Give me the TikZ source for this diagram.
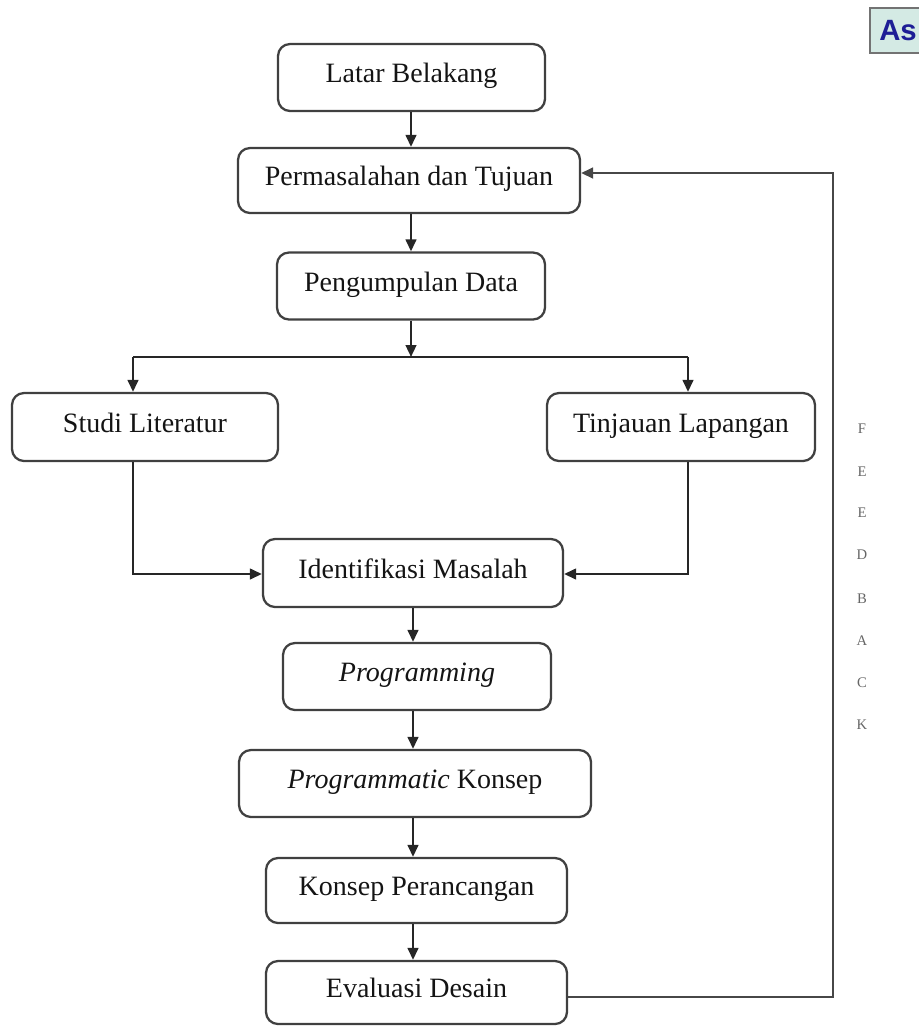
\documentclass[tikz,border=0pt]{standalone}
\usepackage{fontspec}
\setmainfont{Liberation Serif}
\newfontfamily\arialfont{Liberation Sans}
\usetikzlibrary{arrows.meta}
\begin{document}
\begin{tikzpicture}[x=0.75pt,y=-0.75pt,
  box/.style={draw=black!75, line width=1.7pt, rounded corners=9pt, inner sep=0pt,
    font=\fontsize{21}{25}\selectfont, text=black!92, text height=13pt, text depth=5.5pt, align=center},
  conn/.style={line width=1.7pt, draw=black!85},
  arr/.style={conn, -{Triangle[length=9pt,width=8pt]}},
  fbl/.style={font=\fontsize{11}{13}\selectfont, text=black!60, inner sep=0pt}]
\useasboundingbox (0,0) rectangle (919,1026);
\clip (0,0) rectangle (919,1026);

% corner label
\node[draw=black!55, line width=1.8pt, fill={rgb,255:red,212;green,234;blue,228}, minimum width=60pt, minimum height=33.75pt,
  anchor=north west, inner sep=0pt] (asbox) at (869,7) {};
\node[anchor=west, inner sep=0pt, font=\arialfont\bfseries\fontsize{22}{24}\selectfont, text={rgb,255:red,30;green,30;blue,150}] (astext) at (879,31) {As};

% boxes
\node[box, minimum width=200.25pt, minimum height=50.25pt] (lb) at (411.5,77.5) {Latar Belakang};
\node[box, minimum width=256.5pt, minimum height=48.75pt] (pt) at (409,180.5) {Permasalahan dan Tujuan};
\node[box, minimum width=201pt, minimum height=50.25pt] (pd) at (411,286) {Pengumpulan Data};
\node[box, minimum width=199.5pt, minimum height=51pt] (sl) at (145,427) {Studi Literatur};
\node[box, minimum width=201pt, minimum height=51pt] (tl) at (681,427) {Tinjauan Lapangan};
\node[box, minimum width=225pt, minimum height=51pt] (im) at (413,573) {Identifikasi Masalah};
\node[box, minimum width=201pt, minimum height=50.25pt] (pg) at (417,676.5) {\textit{Programming}};
\node[box, minimum width=264pt, minimum height=50.25pt] (pk) at (415,783.5) {\textit{Programmatic} Konsep};
\node[box, minimum width=225.75pt, minimum height=48.75pt] (kp) at (416.5,890.5) {Konsep Perancangan};
\node[box, minimum width=225.75pt, minimum height=47.25pt] (ed) at (416.5,992.5) {Evaluasi Desain};

% junction coordinates
\coordinate (jm) at (411,357);
\coordinate (jl) at (133,357);
\coordinate (jr) at (688,357);
\coordinate (ml) at (133,574);
\coordinate (mr) at (688,574);
\coordinate (fbb) at (833,997);
\coordinate (fbt) at (833,173);
\coordinate (x1) at (411,0);
\coordinate (x2) at (413,0);

% connectors
\draw[arr] (x1 |- lb.south) -- (x1 |- pt.north);
\draw[arr] (x1 |- pt.south) -- (x1 |- pd.north);
\draw[arr] (x1 |- pd.south) -- (jm);
\draw[conn] (jl) -- (jr);
\draw[arr] (jl) -- (jl |- sl.north);
\draw[arr] (jr) -- (jr |- tl.north);
\draw[arr] (jl |- sl.south) -- (ml) -- (ml -| im.west);
\draw[arr] (jr |- tl.south) -- (mr) -- (mr -| im.east);
\draw[arr] (x2 |- im.south) -- (x2 |- pg.north);
\draw[arr] (x2 |- pg.south) -- (x2 |- pk.north);
\draw[arr] (x2 |- pk.south) -- (x2 |- kp.north);
\draw[arr] (x2 |- kp.south) -- (x2 |- ed.north);
\draw[arr, draw=black!72, line width=2pt] (fbb -| ed.east) -- (fbb) -- (fbt) -- (fbt -| pt.east);

% feedback letters
\node[fbl] (f1) at (862,429) {F};
\node[fbl] (f2) at (862,472) {E};
\node[fbl] (f3) at (862,513) {E};
\node[fbl] (f4) at (862,555) {D};
\node[fbl] (f5) at (862,599) {B};
\node[fbl] (f6) at (862,641) {A};
\node[fbl] (f7) at (862,683) {C};
\node[fbl] (f8) at (862,725) {K};
\end{tikzpicture}
\end{document}
